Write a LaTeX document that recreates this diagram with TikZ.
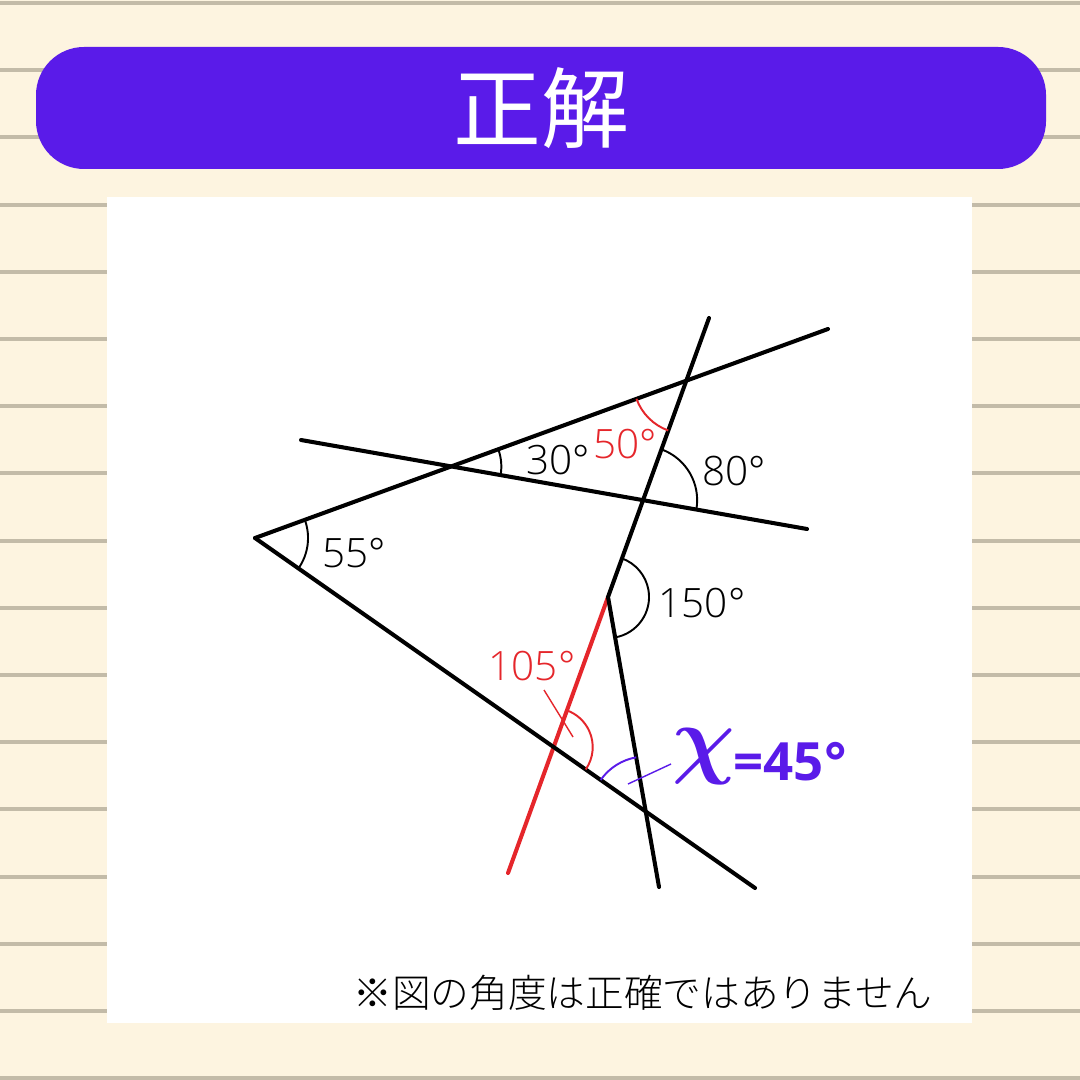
\documentclass[tikz,border=0pt]{standalone}
\usepackage{fontspec}
\setmainfont{Open Sans}
\newfontfamily\lightfont{Open Sans}[UprightFont={* Light}]
\newfontfamily\jpfont{Noto Sans CJK JP}
\newfontfamily\jplight{Noto Sans CJK JP}[UprightFont={* Light}]
\usetikzlibrary{angles}
\definecolor{cream}{HTML}{FDF4E0}
\definecolor{ruleline}{HTML}{C3BBA8}
\definecolor{violet}{HTML}{5A1BE9}
\definecolor{ansred}{HTML}{E5262B}
\begin{document}
\begin{tikzpicture}[x=0.01cm,y=-0.01cm,
    line/.style={line width=1.15pt, line cap=round},
    arcline/.style={draw, line width=0.55pt},
    deg/.style={font=\lightfont\fontsize{11.5}{11.5}\selectfont, inner sep=0pt}]
  \def\Gap{67.2};
  \useasboundingbox (0,0) rectangle (1080,1080);

  % paper
  \fill[cream] (0,0) rectangle (1080,1080);
  \foreach \k in {0,...,16}
    \fill[ruleline] (0,{3+\Gap*\k-2}) rectangle (1080,{3+\Gap*\k+2});

  % title
  \fill[violet, rounded corners=0.48cm] (36,47) rectangle (1046,169);
  \node[text=white, font=\jpfont\fontsize{25}{25}\selectfont] (title) at (541,108) {正解};

  % panel
  \fill[white] (107,197) rectangle (972,1023);

  % points
  \coordinate (A) at (255,538);
  \coordinate (U) at (828,329);
  \coordinate (Lo) at (755,888);
  \coordinate (H1) at (301,440);
  \coordinate (H2) at (807,529);
  \coordinate (S) at (709,318);
  \coordinate (P) at (608,597);
  \coordinate (B) at (659,887);
  \coordinate (R) at (508,873);

  % crossings
  \coordinate (Q1) at (intersection of A--U and H1--H2);
  \coordinate (Q2) at (intersection of A--U and S--P);
  \coordinate (Q3) at (intersection of H1--H2 and S--P);
  \coordinate (Q4) at (intersection of A--Lo and P--R);
  \coordinate (Q5) at (intersection of A--Lo and P--B);

  % lines
  \draw[line, ansred] (P) -- (R);
  \draw[line] (A) -- (U);
  \draw[line] (A) -- (Lo);
  \draw[line] (H1) -- (H2);
  \draw[line, line join=miter] (S) -- (P) -- (B);

  % angles
  \pic[arcline, angle radius=0.53cm] {angle = Lo--A--U};
  \pic[arcline, angle radius=0.50cm] {angle = H2--Q1--U};
  \pic[arcline, ansred, angle radius=0.53cm] {angle = A--Q2--P};
  \pic[arcline, angle radius=0.54cm] {angle = H2--Q3--S};
  \pic[arcline, angle radius=0.41cm] {angle = B--P--S};
  \pic[arcline, ansred, angle radius=0.39cm] {angle = Lo--Q4--P};
  \pic[arcline, violet, angle radius=0.55cm] {angle = P--Q5--A};

  % labels
  \node[deg] (l55) at (354,553) {55°};
  \node[deg] (l30) at (558,460) {30°};
  \node[deg, text=ansred] (l50) at (625,444) {50°};
  \node[deg] (l80) at (734,471) {80°};
  \node[deg] (l150) at (702,603) {150°};
  \node[deg, text=ansred] (l105) at (532,666) {105°};

  % answer
  \node[text=violet, inner sep=0pt, font=\boldmath\fontsize{27}{27}\selectfont] (xsym) at (704,757) {$\chi$};
  \node[text=violet, inner sep=0pt, anchor=west, font=\bfseries\fontsize{15}{15}\selectfont] (val) at (733,762) {=45°};
  \coordinate (r1) at (544,690);
  \coordinate (r2) at (573,737);
  \draw[ansred, line width=0.4pt] (r1) -- (r2);
  \coordinate (v1) at (628,784);
  \coordinate (v2) at (671,764);
  \draw[violet, line width=0.4pt] (v1) -- (v2);

  % note
  \node[font=\jplight\fontsize{11}{11}\selectfont] (note) at (643,993) {※図の角度は正確ではありません};
\end{tikzpicture}
\end{document}
